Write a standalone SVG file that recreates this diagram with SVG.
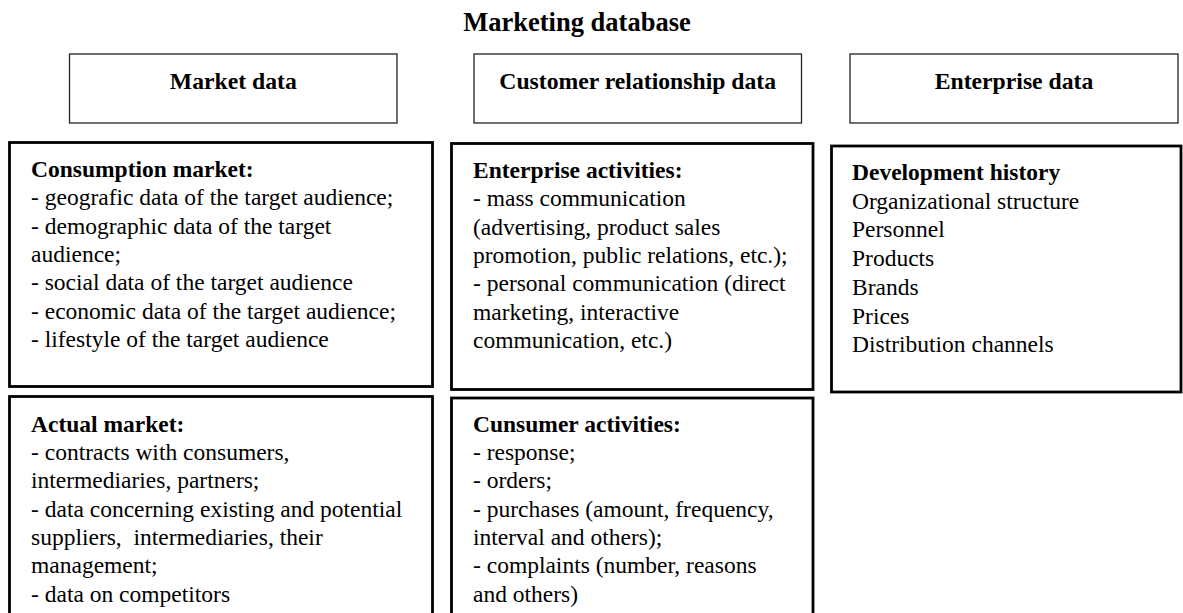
<svg xmlns="http://www.w3.org/2000/svg" width="1183" height="613" viewBox="0 0 1183 613">
<style>
text{font-family:"Liberation Serif","Times New Roman",serif;font-size:23.5px;fill:#000}
.b{font-weight:bold}
.m{text-anchor:middle}
.h{font-size:23.7px}
.t{font-size:26.5px}
.hdr{fill:#fff;stroke:#222;stroke-width:1.3}
.box{fill:#fff;stroke:#000;stroke-width:2.8}
</style>
<rect width="1183" height="613" fill="#fff"/>
<g id="title"><text class="b m t" x="577" y="30.5">Marketing database</text></g>
<g id="market-data"><rect class="hdr" x="69.5" y="54" width="327.5" height="69"/><text class="b m h" x="233.3" y="89">Market data</text></g>
<g id="customer-relationship-data"><rect class="hdr" x="474" y="54" width="327.5" height="69"/><text class="b m h" x="637.7" y="89">Customer relationship data</text></g>
<g id="enterprise-data"><rect class="hdr" x="850" y="54" width="328" height="69"/><text class="b m h" x="1014" y="89">Enterprise data</text></g>
<g id="consumption-market"><rect class="box" x="9.5" y="142.5" width="423" height="244"/>
<text x="31" y="177"><tspan class="b">Consumption market:</tspan><tspan x="31" dy="28.3">- geografic data of the target audience;</tspan><tspan x="31" dy="28.3">- demographic data of the target</tspan><tspan x="31" dy="28.3">audience;</tspan><tspan x="31" dy="28.3">- social data of the target audience</tspan><tspan x="31" dy="28.3">- economic data of the target audience;</tspan><tspan x="31" dy="28.3">- lifestyle of the target audience</tspan></text></g>
<g id="actual-market"><rect class="box" x="9.5" y="396.5" width="423" height="230"/>
<text x="31" y="431.7" style="white-space:pre"><tspan class="b">Actual market:</tspan><tspan x="31" dy="28.3">- contracts with consumers,</tspan><tspan x="31" dy="28.3">intermediaries, partners;</tspan><tspan x="31" dy="28.3">- data concerning existing and potential</tspan><tspan x="31" dy="28.3">suppliers,  intermediaries, their</tspan><tspan x="31" dy="28.3">management;</tspan><tspan x="31" dy="28.3">- data on competitors</tspan></text></g>
<g id="enterprise-activities"><rect class="box" x="451.5" y="143.5" width="361.5" height="246"/>
<text x="473" y="178"><tspan class="b">Enterprise activities:</tspan><tspan x="473" dy="28.3">- mass communication</tspan><tspan x="473" dy="28.3">(advertising, product sales</tspan><tspan x="473" dy="28.3">promotion, public relations, etc.);</tspan><tspan x="473" dy="28.3">- personal communication (direct</tspan><tspan x="473" dy="28.3">marketing, interactive</tspan><tspan x="473" dy="28.3">communication, etc.)</tspan></text></g>
<g id="consumer-activities"><rect class="box" x="451.5" y="398" width="361.5" height="230"/>
<text x="473" y="431.7"><tspan class="b">Cunsumer activities:</tspan><tspan x="473" dy="28.3">- response;</tspan><tspan x="473" dy="28.3">- orders;</tspan><tspan x="473" dy="28.3">- purchases (amount, frequency,</tspan><tspan x="473" dy="28.3">interval and others);</tspan><tspan x="473" dy="28.3">- complaints (number, reasons</tspan><tspan x="473" dy="28.3">and others)</tspan></text></g>
<g id="development-history"><rect class="box" x="831.5" y="146" width="349.5" height="246"/>
<text x="852" y="180"><tspan class="b">Development history</tspan><tspan x="852" dy="28.7">Organizational structure</tspan><tspan x="852" dy="28.7">Personnel</tspan><tspan x="852" dy="28.7">Products</tspan><tspan x="852" dy="28.7">Brands</tspan><tspan x="852" dy="28.7">Prices</tspan><tspan x="852" dy="28.7">Distribution channels</tspan></text></g>
<g id="connectors"/>
</svg>
